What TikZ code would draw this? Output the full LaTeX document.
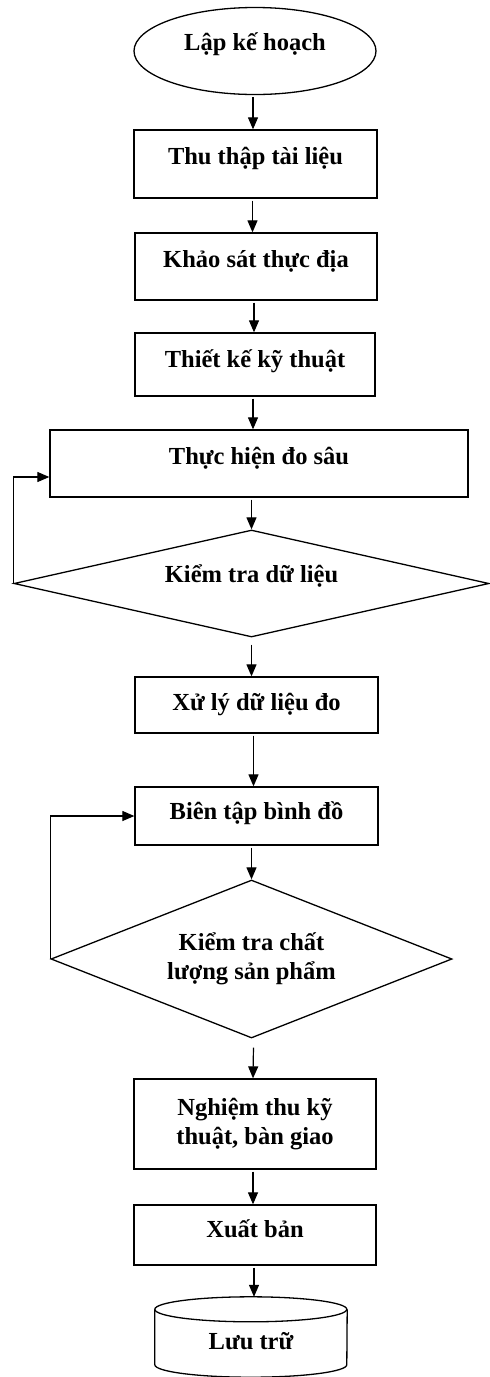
\documentclass[tikz,border=0pt]{standalone}
\usepackage{fontspec}
\setmainfont{Liberation Serif}
\usetikzlibrary{shapes.geometric,arrows.meta}
\tikzset{
  every node/.style={font=\fontsize{24.5}{29}\selectfont\bfseries, inner sep=0pt},
  stepbox/.style={draw, rectangle, line width=1.3pt, text height=16pt},
  startnode/.style={draw, ellipse, line width=1.3pt, minimum width=242pt, minimum height=87pt, text height=16pt, text depth=18pt},
  decide/.style={draw, diamond, line width=1.3pt, align=center},
  arr/.style={line width=1.2pt, -{Triangle[length=12pt,width=10pt]}, shorten <=2pt},
  loopline/.style={line width=1.2pt, -{Triangle[length=12pt,width=10pt]}}
}
\begin{document}
\begin{tikzpicture}[x=1pt,y=-1pt]
\useasboundingbox (0,0) rectangle (490,1377);
\node[startnode] (e) at (255,51) {Lập kế hoạch};
\node[stepbox, minimum width=243pt, minimum height=68pt, text depth=16pt] (b1) at (255.5,164) {Thu thập tài liệu};
\node[stepbox, minimum width=242pt, minimum height=67pt, text depth=15pt] (b2) at (256,266.5) {Khảo sát thực địa};
\node[stepbox, minimum width=240pt, minimum height=63pt, text depth=11pt] (b3) at (255,364.5) {Thiết kế kỹ thuật};
\node[stepbox, minimum width=418pt, minimum height=67pt, text depth=15pt] (b4) at (259,463.5) {Thực hiện đo sâu};
\node[decide, aspect=4.44, minimum width=475pt, minimum height=107pt, text height=16pt, text depth=19pt] (d1) at (251.5,583.5) {Kiểm tra dữ liệu};
\node[stepbox, minimum width=243pt, minimum height=56pt, text depth=6pt] (b5) at (256.5,705) {Xử lý dữ liệu đo};
\node[stepbox, minimum width=243pt, minimum height=58pt, text depth=10pt] (b6) at (256.5,816) {Biên tập bình đồ};
\node[decide, aspect=2.54, minimum width=401pt, minimum height=158pt] (d2) at (251.5,959) {Kiểm tra chất\\lượng sản phẩm};
\node[draw, rectangle, line width=1.3pt, align=center, minimum width=242pt, minimum height=90pt] (b7) at (255,1124) {Nghiệm thu kỹ\\thuật, bàn giao};
\node[stepbox, minimum width=242pt, minimum height=60pt, text depth=12pt] (b8) at (255,1235) {Xuất bản};
\node[rectangle, minimum width=192pt, minimum height=80pt, text height=28pt, text depth=4pt] (st) at (251,1337) {Lưu trữ};
\draw[line width=1.3pt] (st.north west) ++(0,12.5) arc[start angle=180, end angle=-180, x radius=96pt, y radius=12.5pt];
\draw[line width=1.3pt] ([yshift=-12.5pt]st.north west) -- ([yshift=12.5pt]st.south west)
  arc[start angle=180, end angle=360, x radius=96pt, y radius=12.5pt] -- ([yshift=-12.5pt]st.north east);
\draw[arr] ([xshift=-2pt]e.south) -- ([xshift=-2pt]e.south |- b1.north);
\draw[arr] ([xshift=-3pt]b1.south) -- ([xshift=-3pt]b1.south |- b2.north);
\draw[arr] ([xshift=-2pt]b2.south) -- ([xshift=-2pt]b2.south |- b3.north);
\draw[arr] ([xshift=-2pt]b3.south) -- ([xshift=-2pt]b3.south |- b4.north);
\draw[arr] (d1.north |- b4.south) -- (d1.north);
\draw[loopline] (d1.west) |- ([yshift=-13.5pt]b4.west);
\draw[arr] (d1.south) ++(0,5) -- (d1.south |- b5.north);
\draw[arr] ([xshift=-3pt]b5.south) -- ([xshift=-3pt]b5.south |- b6.north);
\draw[arr] (d2.north |- b6.south) -- (d2.north);
\draw[loopline] (d2.west) |- (b6.west);
\draw[arr] (d2.south) ++(2,7) -- ([xshift=-2pt]b7.north);
\draw[arr] ([xshift=-2pt]b7.south) -- ([xshift=-2pt]b7.south |- b8.north);
\draw[arr] ([xshift=-1pt]b8.south) -- ([xshift=-1pt]b8.south |- st.north);
\end{tikzpicture}
\end{document}
